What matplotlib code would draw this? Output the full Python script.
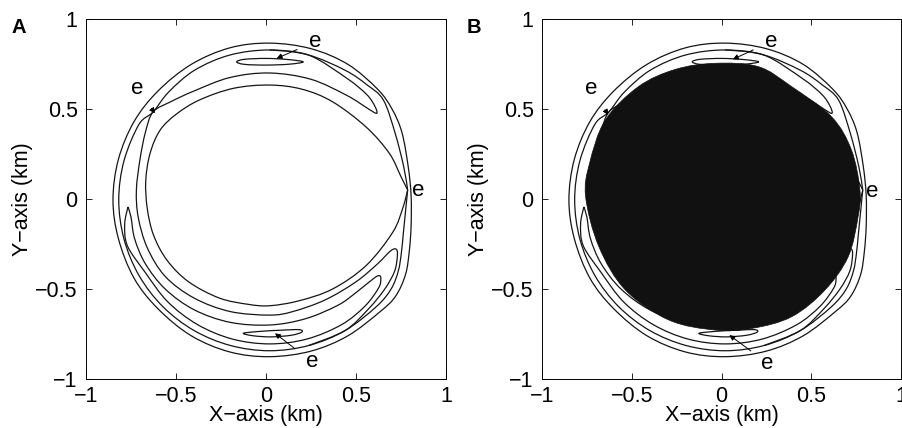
import numpy as np
import matplotlib
matplotlib.use("Agg")
import matplotlib.pyplot as plt
from matplotlib.path import Path
from matplotlib.patches import PathPatch

plt.rcParams['font.family'] = ['Liberation Sans', 'DejaVu Sans']

# ---------------- data (km) ----------------
ticks = [-1, -0.5, 0, 0.5, 1]
tick_labels = ['\u22121', '\u22120.5', '0', '0.5', '1']

# outer closed streamline
outer = [(0.02, 0.866), (0.25, 0.835), (0.455, 0.748), (0.62, 0.61), (0.70, 0.50),
         (0.755, 0.37), (0.79, 0.18), (0.806, 0.02), (0.806, -0.15), (0.796, -0.29),
         (0.775, -0.42), (0.72, -0.54), (0.635, -0.625), (0.455, -0.76), (0.25, -0.845),
         (0.02, -0.876), (-0.2, -0.85), (-0.415, -0.76), (-0.60, -0.61), (-0.733, -0.44),
         (-0.82, -0.22), (-0.85, -0.005), (-0.82, 0.22), (-0.733, 0.43), (-0.60, 0.60),
         (-0.415, 0.748), (-0.2, 0.84)]

# ring through both saddle points (S2 -> down -> left -> S1 -> top -> S2)
ring = [(0.787, 0.05), (0.775, -0.07), (0.763, -0.19), (0.752, -0.30), (0.735, -0.40),
        (0.695, -0.50), (0.613, -0.598), (0.439, -0.731), (0.237, -0.814), (0.02, -0.843),
        (-0.197, -0.814), (-0.399, -0.731), (-0.573, -0.598), (-0.706, -0.424),
        (-0.789, -0.222), (-0.818, -0.005), (-0.789, 0.212), (-0.706, 0.414),
        (-0.628, 0.483), (-0.54, 0.595), (-0.396, 0.716), (-0.2, 0.80), (0.02, 0.828),
        (0.236, 0.80), (0.44, 0.715), (0.56, 0.635), (0.652, 0.55), (0.717, 0.367),
        (0.765, 0.18), (0.787, 0.05)]

# long separatrix: upper finger -> upper-left saddle -> lower-right finger
fingers = [(0.02, 0.828), (0.236, 0.80), (0.45, 0.67), (0.56, 0.58), (0.605, 0.515),
           (0.615, 0.476), (0.57, 0.50), (0.45, 0.575), (0.25, 0.665), (0.02, 0.70),
           (-0.2, 0.675), (-0.40, 0.60), (-0.53, 0.54), (-0.628, 0.483), (-0.67, 0.37),
           (-0.70, 0.22), (-0.72, 0.05), (-0.71, -0.10), (-0.66, -0.27), (-0.56, -0.43),
           (-0.40, -0.55), (-0.2, -0.625), (0.02, -0.645), (0.15, -0.625), (0.33, -0.56),
           (0.50, -0.46), (0.62, -0.36), (0.69, -0.29), (0.722, -0.278), (0.73, -0.31),
           (0.715, -0.40), (0.66, -0.50), (0.57, -0.61), (0.439, -0.731), (0.237, -0.814)]

# inner lower crescent
crescent = [(-0.767, -0.044), (-0.785, -0.14), (-0.77, -0.26), (-0.673, -0.405),
            (-0.546, -0.571), (-0.38, -0.698), (-0.187, -0.778), (0.02, -0.805),
            (0.227, -0.778), (0.42, -0.698), (0.55, -0.595), (0.625, -0.495),
            (0.638, -0.445), (0.63, -0.426), (0.60, -0.44), (0.50, -0.52), (0.40, -0.59),
            (0.22, -0.665), (0.02, -0.70), (-0.2, -0.685), (-0.40, -0.615), (-0.56, -0.50),
            (-0.67, -0.36), (-0.73, -0.22), (-0.75, -0.10), (-0.767, -0.044)]

# small islands around the elliptic points
island_top = [(-0.163, 0.762), (-0.12, 0.776), (0.0, 0.781), (0.12, 0.775), (0.207, 0.762),
              (0.13, 0.749), (0.0, 0.744), (-0.12, 0.748)]
island_bottom = [(-0.126, -0.746), (-0.04, -0.736), (0.08, -0.729), (0.185, -0.726),
                 (0.198, -0.740), (0.14, -0.757), (0.03, -0.766), (-0.07, -0.760)]

# separatrix through the right saddle ("lemon")
lemon = [(0.787, 0.05), (0.75, 0.124), (0.685, 0.254), (0.556, 0.40), (0.37, 0.54),
         (0.2, 0.61), (0.02, 0.633), (-0.18, 0.615), (-0.37, 0.55), (-0.50, 0.47),
         (-0.59, 0.38), (-0.645, 0.25), (-0.668, 0.10), (-0.66, -0.05), (-0.625, -0.20),
         (-0.55, -0.34), (-0.43, -0.46), (-0.26, -0.55), (-0.10, -0.585), (0.02, -0.593),
         (0.185, -0.565), (0.37, -0.50), (0.556, -0.37), (0.704, -0.185), (0.76, -0.05),
         (0.787, 0.05)]

# black region of panel B
blob = [(-0.035, 0.754), (0.206, 0.735), (0.391, 0.624), (0.613, 0.457), (0.724, 0.272),
        (0.771, 0.05), (0.761, -0.098), (0.706, -0.32), (0.576, -0.506), (0.391, -0.654),
        (0.169, -0.719), (-0.035, -0.728), (-0.294, -0.672), (-0.535, -0.506),
        (-0.683, -0.265), (-0.757, 0.013), (-0.735, 0.198), (-0.648, 0.437),
        (-0.463, 0.624), (-0.257, 0.72)]

# "e" labels: (text position, arrow tip or None) for panels A and B
e_marks_A = [((0.272, 0.874), (0.059, 0.781)), ((-0.718, 0.615), (-0.617, 0.476)),
             ((0.846, 0.05), None), ((0.254, -0.904), (0.05, -0.746))]
e_marks_B = [((0.276, 0.874), (0.063, 0.776)), ((-0.724, 0.615), (-0.631, 0.467)),
             ((0.841, 0.041), None), ((0.257, -0.913), (0.044, -0.756))]


def smooth_path(pts, closed=False):
    P = np.asarray(pts, float)
    n = len(P)
    if closed:
        ext = np.vstack([P[-1], P, P[0], P[1]])
        segs = n
    else:
        ext = np.vstack([P[0], P, P[-1]])
        segs = n - 1
    verts = [P[0]]
    codes = [Path.MOVETO]
    for i in range(segs):
        p0, p1, p2, p3 = ext[i], ext[i + 1], ext[i + 2], ext[i + 3]
        verts += [p1 + (p2 - p0) / 6.0, p2 - (p3 - p1) / 6.0, p2]
        codes += [Path.CURVE4] * 3
    if closed:
        verts.append(P[0])
        codes.append(Path.CLOSEPOLY)
    return Path(verts, codes)


def draw(ax, pts, closed=False, **kw):
    ax.add_patch(PathPatch(smooth_path(pts, closed), fill=False, **kw))


fig = plt.figure(figsize=(9.02, 4.28), dpi=100)
axA = fig.add_axes([86 / 902, 49 / 428, 360 / 902, 360 / 428])
axB = fig.add_axes([542 / 902, 49 / 428, 359 / 902, 360 / 428])

lk = dict(color='#151515', lw=0.9, zorder=2)
for ax, marks, letter, lx in [(axA, e_marks_A, 'A', 12), (axB, e_marks_B, 'B', 467)]:
    draw(ax, outer, closed=True, **lk)
    draw(ax, ring, **lk)
    draw(ax, fingers, **lk)
    draw(ax, crescent, **lk)
    draw(ax, island_top, closed=True, **lk)
    draw(ax, island_bottom, closed=True, **lk)
    draw(ax, lemon, **lk)
    if ax is axB:
        ax.add_patch(PathPatch(smooth_path(blob, closed=True), facecolor='#111111',
                               edgecolor='#111111', lw=0.5, zorder=3))
    for tpos, tip in marks:
        if tip is None:
            ax.text(tpos[0], tpos[1], 'e', fontsize=16, ha='center', va='center', zorder=5)
        else:
            ax.annotate('e', xy=tip, xytext=tpos, fontsize=16, ha='center', va='center',
                        zorder=5,
                        arrowprops=dict(arrowstyle='-|>', color='k', lw=0.7,
                                        mutation_scale=8, shrinkA=7, shrinkB=0))
    ax.set_xlim(-1, 1)
    ax.set_ylim(-1, 1)
    ax.set_xticks(ticks)
    ax.set_yticks(ticks)
    ax.set_xticklabels(tick_labels)
    ax.set_yticklabels(tick_labels)
    ax.tick_params(direction='in', top=True, right=True, length=4, width=0.6,
                   labelsize=15.5)
    ax.tick_params(axis='x', pad=5)
    ax.tick_params(axis='y', pad=6)
    for s in ax.spines.values():
        s.set_linewidth(0.7)
    ax.set_xlabel('X\u2212axis (km)', fontsize=15.5)
    ax.set_ylabel('Y\u2212axis (km)', fontsize=15.5)
    ax.xaxis.set_label_coords(0.5, -0.072)
    ax.yaxis.set_label_coords(-0.147, 0.5)
    fig.text(lx / 902, 1 - 33 / 428, letter, fontsize=14.5, fontweight='bold',
             ha='left', va='baseline')

fig.savefig('out.png', dpi=100)
